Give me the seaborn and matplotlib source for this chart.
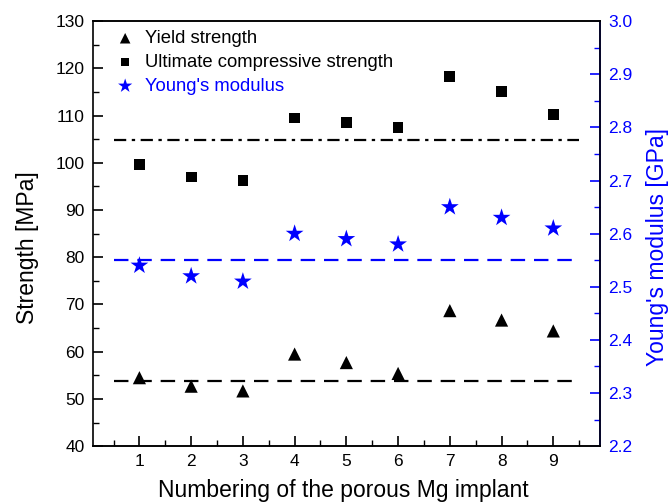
import numpy as np
import pandas as pd
import matplotlib
matplotlib.use("Agg")
import matplotlib.pyplot as plt
import seaborn as sns
from matplotlib.ticker import MultipleLocator, FormatStrFormatter

# DATA
implant = [1, 2, 3, 4, 5, 6, 7, 8, 9]
yield_strength = [54.5, 52.7, 51.7, 59.5, 57.7, 55.4, 68.7, 66.7, 64.4]
ucs = [99.6, 97.0, 96.3, 109.5, 108.6, 107.4, 118.3, 115.1, 110.2]
youngs = [2.54, 2.52, 2.51, 2.60, 2.59, 2.58, 2.65, 2.63, 2.61]
ref_yield = 53.7
ref_ucs = 104.8
ref_youngs = 2.55
ref_span = [0.5, 9.5]

df = pd.DataFrame({"implant": implant, "yield": yield_strength,
                   "ucs": ucs, "youngs": youngs})

sns.set_style("ticks")
plt.rcParams["font.family"] = ["Liberation Sans", "DejaVu Sans"]
for key in ["text.color", "axes.labelcolor", "xtick.color", "ytick.color"]:
    plt.rcParams[key] = "black"

fig, ax = plt.subplots(figsize=(6.68, 5.03), dpi=100)
fig.subplots_adjust(left=0.139, right=0.898, top=0.958, bottom=0.113)
ax2 = ax.twinx()

sns.scatterplot(data=df, x="implant", y="yield", marker="^", s=90, color="black",
                edgecolor="none", ax=ax, label="Yield strength", zorder=3)
sns.scatterplot(data=df, x="implant", y="ucs", marker="s", s=60, color="black",
                edgecolor="none", ax=ax, label="Ultimate compressive strength", zorder=3)
sns.scatterplot(data=df, x="implant", y="youngs", marker="*", s=180, color="blue",
                edgecolor="none", ax=ax2, label="Young's modulus", zorder=3)

ax.hlines(ref_yield, ref_span[0], ref_span[1], colors="black", linestyles=(0, (6.5, 4)), lw=1.6)
ax.hlines(ref_ucs, ref_span[0], ref_span[1], colors="black", linestyles=(0, (5.5, 2.5, 1.5, 2.5)), lw=1.6)
ax2.hlines(ref_youngs, ref_span[0], ref_span[1], colors="blue", linestyles=(0, (6.5, 4)), lw=1.6)

ax.set_xlim(0.1, 9.9)
ax.set_ylim(40, 130)
ax2.set_ylim(2.2, 3.0)
ax.set_xticks(implant)
ax.set_xticks(np.arange(0.5, 10, 1.0), minor=True)
ax.yaxis.set_major_locator(MultipleLocator(10))
ax.yaxis.set_minor_locator(MultipleLocator(5))
ax2.yaxis.set_major_locator(MultipleLocator(0.1))
ax2.yaxis.set_minor_locator(MultipleLocator(0.05))
ax2.yaxis.set_major_formatter(FormatStrFormatter("%.1f"))

ax.tick_params(which="major", length=7, width=1.2, labelsize=12.5, direction="in",
               colors="black", pad=6)
ax.tick_params(which="minor", length=4, width=1.0, direction="in", colors="black")
ax2.tick_params(which="major", length=7, width=1.2, labelsize=12.5, direction="in",
                colors="blue", pad=6)
ax2.tick_params(which="minor", length=4, width=1.0, direction="in", colors="blue")

for sp in ax.spines.values():
    sp.set_linewidth(1.2)
    sp.set_color("black")
for sp in ax2.spines.values():
    sp.set_linewidth(1.2)
ax2.spines["right"].set_color("blue")
ax2.spines["left"].set_visible(False)

ax.set_xlabel("Numbering of the porous Mg implant", fontsize=16.5, color="black")
ax.set_ylabel("Strength [MPa]", fontsize=16.5, color="black")
ax2.set_ylabel("Young's modulus [GPa]", fontsize=16.5, color="blue")
# labels sit a little off-centre in the original
ax.xaxis.set_label_coords(0.494, -0.078)
ax.yaxis.set_label_coords(-0.106, 0.468)
ax2.yaxis.set_label_coords(1.091, 0.468)

h1, l1 = ax.get_legend_handles_labels()
h2, l2 = ax2.get_legend_handles_labels()
if ax.get_legend():
    ax.get_legend().remove()
if ax2.get_legend():
    ax2.get_legend().remove()
leg = ax.legend(h1 + h2, l1 + l2, loc="upper left", frameon=False, fontsize=13.3,
                handletextpad=0.45, handlelength=1.2, borderaxespad=0.2,
                labelspacing=0.37, markerscale=0.8, bbox_to_anchor=(0.02, 1.005))
for t in leg.get_texts():
    t.set_color("black")
leg.get_texts()[2].set_color("blue")
ax.set_zorder(ax2.get_zorder() + 1)
ax.patch.set_visible(False)

fig.savefig("out.png", dpi=100)
